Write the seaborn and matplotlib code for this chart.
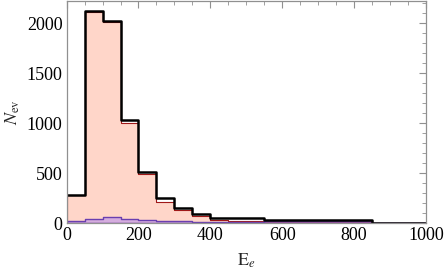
import numpy as np
import pandas as pd
import matplotlib
matplotlib.use("Agg")
import matplotlib.pyplot as plt
import seaborn as sns
from matplotlib.ticker import MultipleLocator

# ---- data ----
bin_edges = [0, 50, 100, 150, 200, 250, 300, 350, 400, 450, 500,
             550, 600, 650, 700, 750, 800, 850, 900, 950, 1000]
total_counts = [280, 2120, 2023, 1030, 515, 250, 153, 90, 55, 47, 47,
                35, 35, 35, 33, 30, 28, 0, 0, 0]
signal_counts = [276, 2112, 2008, 997, 495, 215, 127, 70, 30, 23, 23,
                 12, 12, 12, 11, 10, 9, 0, 0, 0]
background_counts = [20, 42, 65, 42, 27, 22, 18, 12, 10, 8, 8,
                     20, 20, 20, 20, 18, 16, 0, 0, 0]
x_ticks = [0, 200, 400, 600, 800, 1000]
y_ticks = [0, 500, 1000, 1500, 2000]

sns.set_theme(style="white")
plt.rcParams['font.family'] = ['Liberation Serif', 'DejaVu Serif']
plt.rcParams['mathtext.fontset'] = 'stix'

centers = [(a + b) / 2 for a, b in zip(bin_edges[:-1], bin_edges[1:])]
df = pd.DataFrame({"E": centers, "tot": total_counts,
                   "sig": signal_counts, "bkg": background_counts})

fig = plt.figure(figsize=(4.44, 2.73), dpi=100)
ax = fig.add_axes([0.150, 0.183, 0.8095, 0.814])

sns.histplot(data=df, x="E", weights="sig", bins=bin_edges, element="step",
             fill=True, color="#ffd6c9", alpha=1.0, edgecolor="#a01818",
             linewidth=0.8, ax=ax)
sns.histplot(data=df, x="E", weights="bkg", bins=bin_edges, element="step",
             fill=True, color="#b48cf0", alpha=0.55, edgecolor="#6a3fb0",
             linewidth=1.0, ax=ax)
sns.histplot(data=df, x="E", weights="tot", bins=bin_edges, element="step",
             fill=False, color="black", linewidth=1.8, ax=ax)

ax.set_xlim(0, 1000)
ax.set_ylim(0, 2225)
ax.set_xticks(x_ticks)
ax.set_yticks(y_ticks)
ax.xaxis.set_minor_locator(MultipleLocator(50))
ax.yaxis.set_minor_locator(MultipleLocator(100))
ax.tick_params(which="both", direction="in", top=True, right=True,
               color="#909090", labelsize=13, labelcolor="black", pad=3)
ax.tick_params(which="major", length=5, width=0.8)
ax.tick_params(which="minor", length=3, width=0.6)
for s in ax.spines.values():
    s.set_color("#909090")
    s.set_linewidth(0.9)

ax.set_xlabel(r"$\mathrm{E}_e$", fontsize=13, labelpad=5)
ax.set_ylabel(r"$N_{\mathrm{ev}}$", fontsize=13, labelpad=3)

fig.savefig("out.png", dpi=100)
